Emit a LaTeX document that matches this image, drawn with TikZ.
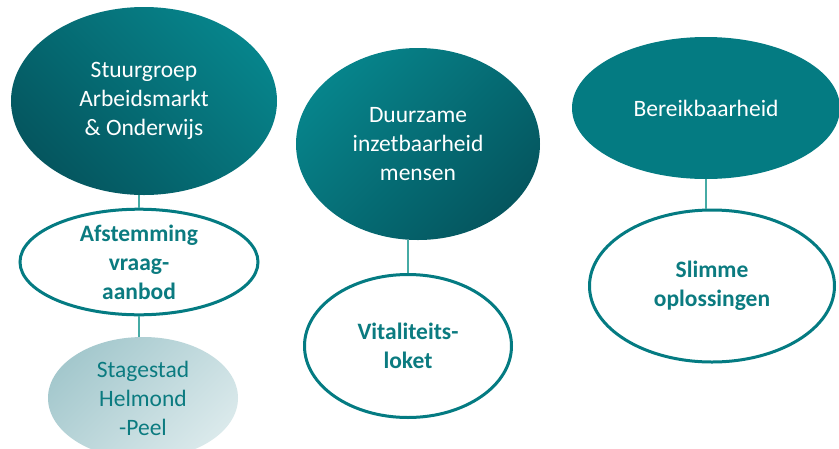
\documentclass[tikz,border=0pt]{standalone}
\usepackage{fontspec}
\setmainfont{Carlito}
\usepackage{xcolor}
\usetikzlibrary{shapes.geometric}
\definecolor{tealmain}{HTML}{047B82}
\definecolor{teallight}{HTML}{06848B}
\definecolor{tealdark}{HTML}{05565F}
\definecolor{tealtext}{HTML}{0B7B80}
\definecolor{tealline}{HTML}{46ABA5}
\definecolor{paletop}{HTML}{A4C8CD}
\definecolor{palebot}{HTML}{DAE9EB}
\tikzset{
  blob/.style={ellipse, inner sep=0, align=center, text=white,
    font=\fontsize{23.5}{29}\selectfont},
  ring/.style={ellipse, inner sep=0, align=center, draw=tealmain, line width=3pt,
    fill=white, text=tealtext, font=\fontsize{23.5}{29}\selectfont\bfseries},
  pale/.style={ellipse, inner sep=0, align=center, text=tealtext,
    top color=paletop, bottom color=palebot, shading angle=45,
    font=\fontsize{23.5}{29}\selectfont},
  link/.style={tealline, line width=1.2pt}
}

\begin{document}
\begin{tikzpicture}[x=1pt,y=-1pt]
\clip (0,0) rectangle (839,448);
\fill[white] (0,0) rectangle (839,448);
\node[blob, minimum width=266, minimum height=188, top color=teallight, bottom color=tealdark, shading angle=-45] (stuur) at (144,101) {Stuurgroep\\Arbeidsmarkt\\\& Onderwijs};
\node[ring, minimum width=238, minimum height=103] (afst) at (139,262) {Afstemming\\vraag-\\aanbod};
\node[pale, minimum width=190, minimum height=122] (stage) at (143,398) {Stagestad\\Helmond\\-Peel};
\node[blob, minimum width=244, minimum height=192, top color=teallight, bottom color=tealdark, shading angle=45] (duur) at (418,144) {Duurzame\\inzetbaarheid\\mensen};
\node[ring, minimum width=207, minimum height=143] (vital) at (408,346) {Vitaliteits-\\loket};
\node[blob, minimum width=268, minimum height=142, fill=tealmain] (bereik) at (706,108) {Bereikbaarheid};
\node[ring, minimum width=245, minimum height=152] (slim) at (712,286) {Slimme\\oplossingen};
\draw[link] (stuur.south -| afst.north) -- (afst.north);
\draw[link] (afst.south) -- (stage.north -| afst.south);
\draw[link] (duur.south -| vital.north) -- (vital.north);
\draw[link] (bereik.south) -- (slim.north -| bereik.south);
\end{tikzpicture}
\end{document}
